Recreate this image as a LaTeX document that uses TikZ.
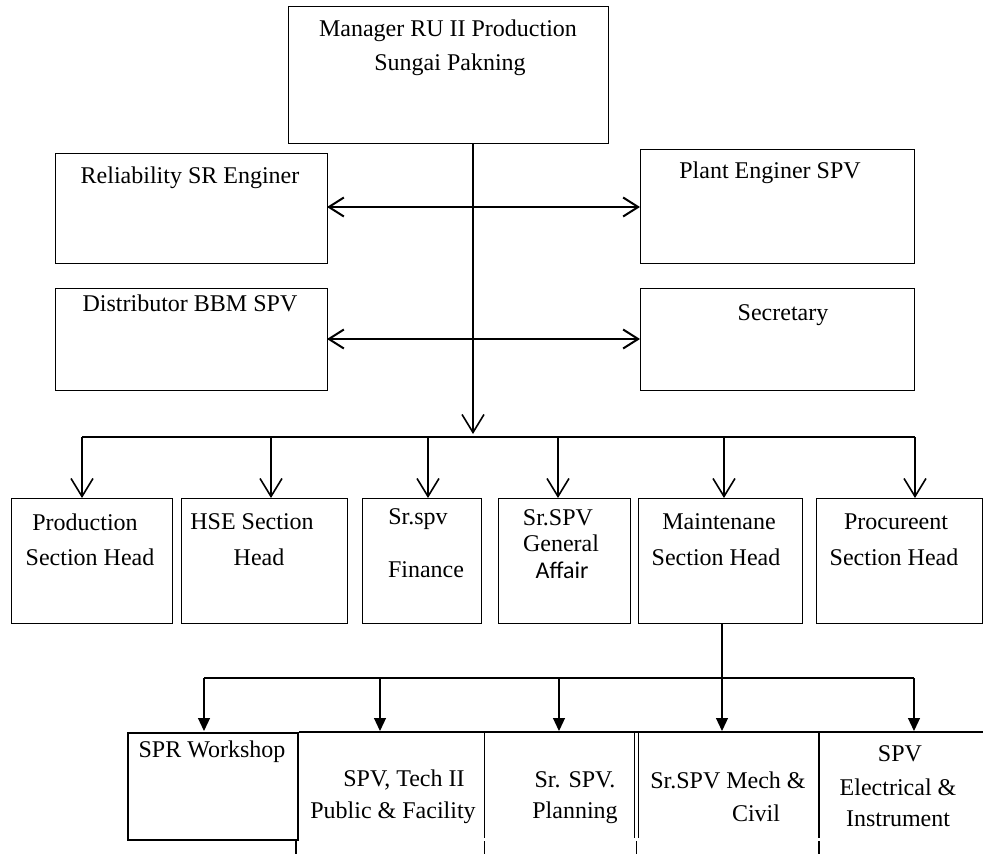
\documentclass[tikz,border=0pt]{standalone}
\usepackage{fontspec}
\setmainfont{Liberation Serif}
\newfontfamily\calfont{Carlito}
\usetikzlibrary{arrows.meta}
\begin{document}
\begin{tikzpicture}[x=1pt,y=-1pt,
  box/.style={draw=black, line width=1.4pt, anchor=north west, inner sep=0pt, fill=none},
  txt/.style={inner sep=0pt, font=\fontsize{24}{28}\selectfont},
  conn/.style={line width=1.6pt},
  openarr/.style={conn, -{Straight Barb[length=18pt,width=22pt,line width=1.6pt]}},
  biarr/.style={line width=2.6pt, {Straight Barb[length=15pt,width=19pt,line width=2pt]}-{Straight Barb[length=15pt,width=19pt,line width=2pt]}},
  fillarr/.style={line width=1.2pt, -{Triangle[length=13pt,width=12pt]}},
  sep/.style={line width=1pt}
]
\useasboundingbox (0,0) rectangle (983,854);
\fill[white] (0,0) rectangle (983,854);
\begin{scope}
\clip (0,0) rectangle (983,854);
% ---- top boxes
\node[box, minimum width=320, minimum height=137] (mgr) at (288,6) {};
\node[box, minimum width=272, minimum height=110] (rel) at (55,153) {};
\node[box, minimum width=274, minimum height=114] (plant) at (640,149) {};
\node[box, minimum width=272, minimum height=102] (dist) at (55,288) {};
\node[box, minimum width=274, minimum height=102] (sec) at (640,288) {};
\node[txt] (tmgr1) at (448,31) {Manager RU II Production};
\node[txt] (tmgr2) at (450,65) {Sungai Pakning};
\node[txt] (trel) at (190,178) {Reliability SR Enginer};
\node[txt] (tplant) at (770,173) {Plant Enginer SPV};
\node[txt] (tdist) at (190,303) {Distributor BBM SPV};
\node[txt] (tsec) at (783,315) {Secretary};
% ---- second row boxes
\node[box, minimum width=161, minimum height=125] (prod) at (11,498) {};
\node[box, minimum width=166, minimum height=125] (hse) at (181,498) {};
\node[box, minimum width=119, minimum height=125] (fin) at (362,498) {};
\node[box, minimum width=132, minimum height=125] (ga) at (498,498) {};
\node[box, minimum width=164, minimum height=125] (mnt) at (638,498) {};
\node[box, minimum width=166, minimum height=125] (proc) at (816,498) {};
\node[txt] (tp1) at (85,522) {Production};
\node[txt] (tp2) at (90,557) {Section Head};
\node[txt] (th1) at (252,522) {HSE Section};
\node[txt] (th2) at (259,557) {Head};
\node[txt] (tf1) at (418,519) {Sr.spv};
\node[txt] (tf2) at (426,570) {Finance};
\node[txt] (tg1) at (558,518) {Sr.SPV};
\node[txt] (tg2) at (561,543) {General};
\node[txt, font=\calfont\fontsize{24}{28}\selectfont] (tg3) at (562,570) {Affair};
\node[txt] (tm1) at (719,522) {Maintenane};
\node[txt] (tm2) at (716,557) {Section Head};
\node[txt] (tc1) at (896,522) {Procureent};
\node[txt] (tc2) at (894,557) {Section Head};
% ---- bottom row
\node[box, line width=1.8pt, minimum width=170, minimum height=107] (spr) at (127,732) {};
\coordinate (rowR) at (983,732);
\draw[line width=1.8pt] (spr.north east) -- (rowR);
\coordinate (s1a) at (484,732); \coordinate (s1b) at (484,838);
\coordinate (s2a) at (634,732); \coordinate (s2b) at (634,838);
\coordinate (s3a) at (638,732); \coordinate (s3b) at (638,838);
\coordinate (s4a) at (819,732); \coordinate (s4b) at (819,838);
\draw[sep] (s1a) -- (s1b);
\draw[sep] (s2a) -- (s2b);
\draw[sep] (s3a) -- (s3b);
\draw[line width=1.4pt] (s4a) -- (s4b);
\coordinate (u0a) at (296,841); \coordinate (u0b) at (296,854);
\coordinate (u1a) at (484,841); \coordinate (u1b) at (484,854);
\coordinate (u2a) at (636,841); \coordinate (u2b) at (636,854);
\coordinate (u3a) at (819,841); \coordinate (u3b) at (819,854);
\draw[line width=1.4pt] (u0a) -- (u0b);
\draw[sep] (u1a) -- (u1b);
\draw[sep] (u2a) -- (u2b);
\draw[line width=1.4pt] (u3a) -- (u3b);
\node[txt] (tb1) at (212,752) {SPR Workshop};
\node[txt] (tb2) at (404,780) {SPV, Tech II};
\node[txt] (tb3) at (393,813) {Public \& Facility};
\node[txt] (tb4) at (575,780) {Sr. SPV.};
\node[txt] (tb5) at (575,813) {Planning};
\node[txt] (tb6) at (728,780) {Sr.SPV Mech \&};
\node[txt] (tb7) at (756,813) {Civil};
\node[txt] (tb8) at (900,754) {SPV};
\node[txt] (tb9) at (898,787) {Electrical \&};
\node[txt] (tb10) at (898,819) {Instrument};
% ---- connectors
\coordinate (m0) at (473,143);
\coordinate (m1) at (473,434);
\draw[openarr] (m0) -- (m1);
\coordinate (ra) at (327,207);
\coordinate (rb) at (640,207);
\coordinate (da) at (327,339);
\coordinate (db) at (640,339);
\draw[biarr] (ra) -- (rb);
\draw[biarr] (da) -- (db);
\coordinate (busL) at (82,437);
\coordinate (busR) at (915,437);
\draw[conn] (busL) -- (busR);
\coordinate (b1) at (82,437);
\coordinate (b2) at (271,437);
\coordinate (b3) at (428,437);
\coordinate (b4) at (558,437);
\coordinate (b5) at (724,437);
\coordinate (b6) at (915,437);
\draw[openarr] (b1) -- (b1 |- prod.north);
\draw[openarr] (b2) -- (b2 |- hse.north);
\draw[openarr] (b3) -- (b3 |- fin.north);
\draw[openarr] (b4) -- (b4 |- ga.north);
\draw[openarr] (b5) -- (b5 |- mnt.north);
\draw[openarr] (b6) -- (b6 |- proc.north);
% maintenance to bottom row
\coordinate (mb) at (722,623);
\coordinate (lbL) at (204,678);
\coordinate (lbR) at (914,678);
\draw[line width=1.2pt] (lbL) -- (lbR);
\coordinate (c1) at (204,678);
\coordinate (c2) at (380,678);
\coordinate (c3) at (559,678);
\coordinate (c5) at (914,678);
\draw[fillarr] (mb) -- (722,731);
\draw[fillarr] (c1) -- (204,731);
\draw[fillarr] (c2) -- (380,731);
\draw[fillarr] (c3) -- (559,731);
\draw[fillarr] (c5) -- (914,731);
\end{scope}
\end{tikzpicture}
\end{document}
